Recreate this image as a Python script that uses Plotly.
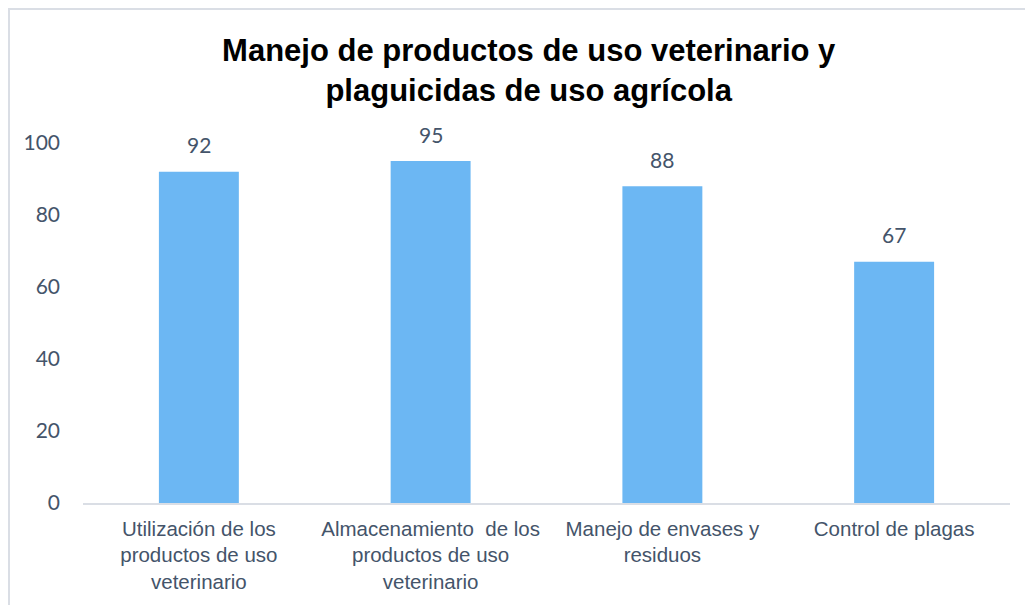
import plotly.graph_objects as go

categories = [
    "Utilización de los<br>productos de uso<br>veterinario",
    "Almacenamiento  de los<br>productos de uso<br>veterinario",
    "Manejo de envases y<br>residuos",
    "Control de plagas",
]
values = [92, 95, 88, 67]
y_ticks = [0, 20, 40, 60, 80, 100]

label_color = "#44546a"

# the page body has an 8px margin, so the figure is 8px smaller than the window
W, H = 1025, 597
L, R, T, B = 75, 23, 135, 102
PW, PH = W - L - R, H - T - B

fig = go.Figure()
fig.add_trace(go.Bar(
    x=categories,
    y=values,
    width=0.345,
    marker=dict(color="#6cb7f3", line=dict(width=0)),
    hoverinfo="x+y",
))

for c, v in zip(categories, values):
    fig.add_annotation(x=c, y=v, text=str(v), showarrow=False, yshift=27,
                       font=dict(family="Lato, Carlito, sans-serif", size=21, color=label_color))

fig.update_layout(
    width=W,
    height=H,
    margin=dict(l=L, r=R, t=T, b=B),
    paper_bgcolor="white",
    plot_bgcolor="white",
    showlegend=False,
    title=dict(
        text="Manejo de productos de uso veterinario y<br>plaguicidas de uso agrícola",
        x=0.508, xanchor="center", yref="container", y=1 - 53 / H, yanchor="top",
        font=dict(family="Liberation Sans, Arial, sans-serif", size=31, color="black", weight="bold"),
    ),
    xaxis=dict(
        showline=True, linecolor="#dadee5", linewidth=2,
        tickfont=dict(family="Liberation Sans, Arial, sans-serif", size=20.5, color=label_color),
        ticks="", showgrid=False, ticklabelstandoff=6,
    ),
    yaxis=dict(
        range=[0, 100], tickvals=y_ticks, showgrid=False, zeroline=False,
        showline=False, ticks="", ticklabelstandoff=22,
        tickfont=dict(family="Lato, Carlito, sans-serif", size=21, color=label_color),
    ),
    shapes=[dict(
        type="rect", xref="paper", yref="paper",
        x0=(1 - L) / PW, x1=(W + 5 - L) / PW,
        y0=(H - T - (H - 1)) / PH, y1=1 + (T - 1) / PH,
        line=dict(color="#dadee5", width=2), fillcolor="rgba(0,0,0,0)", layer="below",
    )],
)

fig.write_html("out.html")
